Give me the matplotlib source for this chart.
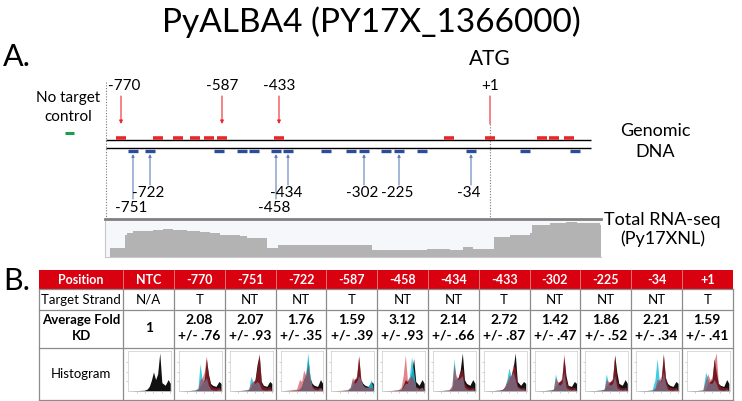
import matplotlib.pyplot as plt
from matplotlib.patches import Rectangle

plt.rcParams['font.family'] = ['Lato', 'DejaVu Sans']

W, H = 742, 401

# panel A: guide sites along the drawn map (0 = left end of the DNA line)
red_sites = [15, 52, 72, 89, 103, 116, 173, 343, 384, 436, 448, 463]
blue_sites = [27, 44, 113, 136, 148, 170, 182, 220, 245, 258, 280, 293, 316, 365, 419, 469]
red_labels = {0: '-770', 5: '-587', 6: '-433', 8: '+1'}
blue_labels = {0: '-751', 1: '-722', 5: '-458', 6: '-434', 9: '-302', 11: '-225', 13: '-34'}
blue_low = ['-751', '-458']

# total RNA-seq coverage (relative depth)
cov_x = [4, 16, 19, 21, 27, 37, 47, 57, 67, 81, 94, 104, 114, 124, 134, 141, 151, 157,
         161, 169, 172, 190, 210, 230, 254, 261, 266, 290, 310, 321, 337, 344, 357, 367,
         387, 388, 404, 424, 426, 444, 460, 471, 484, 494]
cov_depth = [8.7, 8.7, 21.7, 24.4, 25.7, 26.5, 27.5, 28.2, 27.5, 25.7, 24.7, 24.0, 22.2,
             21.7, 20.7, 19.5, 18.7, 18.7, 8.7, 8.7, 12.2, 12.4, 12.0, 11.7, 11.7, 11.7,
             6.7, 7.0, 7.2, 8.4, 8.4, 6.7, 10.0, 8.4, 8.4, 20.0, 21.7, 23.7, 31.7, 33.7,
             34.7, 34.2, 33.7, 31.7]

# panel B table
positions = ['NTC', '-770', '-751', '-722', '-587', '-458', '-434', '-433', '-302', '-225', '-34', '+1']
strands = ['N/A', 'T', 'NT', 'NT', 'T', 'NT', 'NT', 'T', 'NT', 'NT', 'NT', 'T']
fold_kd = ['1', '2.08', '2.07', '1.76', '1.59', '3.12', '2.14', '2.72', '1.42', '1.86', '2.21', '1.59']
fold_err = ['', '.76', '.93', '.35', '.39', '.93', '.66', '.87', '.47', '.52', '.34', '.41']

# histogram thumbnails (relative counts on a shared DNA-content grid)
hist_x = [0, .38, .45, .50, .55, .60, .65, .70, .75, .80, .88, .95, 1.0]
hist_black = [
    [0, .02, .05, .12, .28, .5, .3, .45, 1.0, .22, .15, .3, .2],
    [0, .02, .04, .12, .2, .3, .85, .45, .2, .15, .12, .25, .2],
    [0, .02, .04, .1, .2, .3, .7, .95, .25, .15, .12, .25, .2],
    [0, .02, .05, .12, .3, .4, .85, .35, .2, .15, .12, .3, .2],
    [0, .02, .05, .15, .3, .35, .9, .3, .2, .15, .12, .25, .2],
    [0, .02, .04, .15, .3, .25, .3, .5, .85, .25, .15, .3, .2],
    [0, .02, .05, .3, .3, .35, .55, 1.0, .3, .2, .15, .3, .2],
    [0, .02, .04, .1, .2, .3, .4, .6, 1.0, .25, .15, .25, .2],
    [0, .02, .04, .1, .2, .25, .3, .9, .4, .15, .12, .25, .2],
    [0, .02, .04, .12, .2, .25, .3, .95, .5, .2, .15, .3, .2],
    [0, .02, .05, .2, .25, .3, .95, .35, .2, .15, .12, .25, .2],
    [0, .02, .05, .2, .25, .3, .85, .5, .2, .15, .12, .3, .2],
]
hist_cyan = [
    None,
    [0, .02, .08, .72, .3, .25, .35, .15, .05, .03, .02, .05, 0],
    [0, .02, .05, .38, .25, .2, .25, .2, .05, .03, .02, .04, 0],
    [0, .02, .04, .15, .3, .5, 1.0, .4, .1, .05, .03, .08, 0],
    [0, .02, .1, .3, .2, .25, .4, .3, .15, .1, .1, .3, 0],
    [0, .02, .04, .1, .2, .2, .4, .9, .5, .1, .05, .1, 0],
    [0, .02, .1, .85, .35, .3, .35, .4, .1, .05, .03, .05, 0],
    [0, .02, .04, .1, .3, .6, .4, .5, .3, .1, .05, .05, 0],
    [0, .02, .05, .45, .2, .15, .2, .5, .1, .05, .03, .05, 0],
    [0, .02, .05, .45, .2, .15, .2, .4, .1, .05, .03, .05, 0],
    [0, .02, .3, .85, .3, .25, .5, .2, .05, .03, .02, .05, 0],
    [0, .02, .5, .3, .2, .2, .3, .2, .05, .03, .02, .05, 0],
]
hist_red = [
    None,
    [0, .02, .06, .3, .35, .5, .93, .4, .15, .1, .08, .1, .05],
    [0, .02, .05, .2, .25, .3, .6, 1.0, .2, .12, .08, .12, .05],
    [0, .05, .3, .25, .55, .4, .7, .3, .15, .1, .08, .1, .05],
    [0, .03, .1, .35, .3, .4, .95, .35, .15, .1, .08, .1, .05],
    [0, .03, .1, .4, .95, .3, .35, .4, .3, .12, .08, .1, .05],
    [0, .03, .15, .7, .4, .35, .5, .6, .2, .12, .08, .1, .05],
    [0, .02, .05, .12, .25, .4, .4, .7, .6, .15, .08, .1, .05],
    [0, .02, .05, .35, .25, .25, .35, 1.0, .3, .12, .08, .1, .05],
    [0, .02, .05, .3, .25, .25, .35, .9, .3, .12, .08, .1, .05],
    [0, .02, .08, .3, .3, .4, 1.0, .35, .15, .1, .08, .1, .05],
    [0, .02, .3, .45, .3, .35, .8, 1.0, .2, .12, .08, .1, .05],
]

RED = '#e8272b'
BLUE = '#2b4c9b'
BLUE_LINE = '#5f7fb8'
TABLE_RED = '#d9000f'


def px_axes(x0, y0, x1, y1):
    return fig.add_axes([x0 / W, 1 - y1 / H, (x1 - x0) / W, (y1 - y0) / H])


fig = plt.figure(figsize=(W / 100, H / 100), dpi=100)

# base axes in pixel units for text and the table
ax = fig.add_axes([0, 0, 1, 1])
ax.set_xlim(0, W)
ax.set_ylim(H, 0)
ax.axis('off')

ax.text(371, 22, 'PyALBA4 (PY17X_1366000)', ha='center', va='center', fontsize=24)
ax.text(3, 57, 'A.', ha='left', va='center', fontsize=22)
ax.text(3, 281, 'B.', ha='left', va='center', fontsize=22)
ax.text(490, 59, 'ATG', ha='center', va='center', fontsize=15)

ax.text(68, 98, 'No target', ha='center', va='center', fontsize=11)
ax.text(68, 117, 'control', ha='center', va='center', fontsize=11)
ax.plot([65, 74], [133, 133], color='#1a9e4a', lw=2.2, solid_capstyle='butt')

ax.text(655, 131, 'Genomic', ha='center', va='center', fontsize=13)
ax.text(655, 152, 'DNA', ha='center', va='center', fontsize=13)
ax.text(662, 220, 'Total RNA-seq', ha='center', va='center', fontsize=13)
ax.text(663, 239, '(Py17XNL)', ha='center', va='center', fontsize=13)

# genomic map, same pixel scale shifted so the DNA line starts at 0
MAP_LEFT = 106
axm = fig.add_axes([0, 0, 1, 1])
axm.set_xlim(-MAP_LEFT, W - MAP_LEFT)
axm.set_ylim(H, 0)
axm.axis('off')

axm.plot([0, 0], [82, 219], color='#777777', lw=0.8, ls=(0, (1, 1.5)))
axm.plot([red_sites[8], red_sites[8]], [124, 219], color='#777777', lw=0.8, ls=(0, (1, 1.5)))
axm.hlines([140.3, 148.3], 0, 485, color='black', lw=1.0)
axm.hlines([137.7] * len(red_sites), [p - 5.3 for p in red_sites], [p + 5.3 for p in red_sites],
           color=RED, lw=2.6)
axm.hlines([151] * len(blue_sites), [p - 5.3 for p in blue_sites], [p + 5.3 for p in blue_sites],
           color=BLUE, lw=2.4)

for i, lab in red_labels.items():
    p = red_sites[i]
    style = '-' if lab == '+1' else '-|>'
    axm.annotate('', xy=(p, 124), xytext=(p, 96),
                 arrowprops=dict(arrowstyle=style, color=RED, lw=0.8, mutation_scale=5,
                                 shrinkA=0, shrinkB=0))
    # the first label starts at the dotted line instead of being centred
    if i == 0:
        axm.text(2, 86, lab, ha='left', va='center', fontsize=11)
    else:
        axm.text(p, 86, lab, ha='center', va='center', fontsize=11)

for i, lab in blue_labels.items():
    p = blue_sites[i]
    low = lab in blue_low
    y_end = 199 if low else 185
    axm.annotate('', xy=(p, 154), xytext=(p, y_end),
                 arrowprops=dict(arrowstyle='-|>', color=BLUE_LINE, lw=0.8, mutation_scale=4,
                                 shrinkA=0, shrinkB=0))
    axm.text(p - 2, 208 if low else 193, lab, ha='center', va='center', fontsize=11)

# RNA-seq coverage track
axc = px_axes(105, 219, 601, 257)
axc.set_xlim(-1, 495)
axc.set_ylim(0, 38)
axc.set_facecolor('#f5f7fb')
axc.fill_between(cov_x + [495], cov_depth + [cov_depth[-1]], step='post', color='#b3b3b3', lw=0)
axc.set_xticks([])
axc.set_yticks([])
for s in ['left', 'bottom']:
    axc.spines[s].set_color('#c8c8c8')
axc.spines['right'].set_visible(False)
axc.spines['top'].set_color('#808080')
axc.spines['top'].set_linewidth(2)

# table
col_edges = [39, 123.3] + [123.3 + 50.78 * (k + 1) for k in range(12)]
row_edges = [270, 289, 310, 347.5, 400]

ax.add_patch(Rectangle((col_edges[0], row_edges[0]), col_edges[-1] - col_edges[0],
                       row_edges[1] - row_edges[0], facecolor=TABLE_RED, edgecolor='none'))
for x in col_edges[1:-1]:
    ax.plot([x, x], [row_edges[0], row_edges[1]], color='#f08080', lw=0.6)
for x in col_edges:
    ax.plot([x, x], [row_edges[1], row_edges[-1]], color='#8c8c8c', lw=0.9)
for y in row_edges[1:]:
    ax.plot([col_edges[0], col_edges[-1]], [y, y], color='#8c8c8c', lw=0.9)

def cell_center(c):
    return (col_edges[c] + col_edges[c + 1]) / 2

ax.text(cell_center(0), 279.5, 'Position', ha='center', va='center', fontsize=9,
        fontweight='bold', color='white')
ax.text(cell_center(0), 299.5, 'Target Strand', ha='center', va='center', fontsize=9.5)
ax.text(cell_center(0), 320, 'Average Fold', ha='center', va='center', fontsize=9.5,
        fontweight='bold')
ax.text(cell_center(0), 335.5, 'KD', ha='center', va='center', fontsize=9.5, fontweight='bold')
ax.text(cell_center(0), 374, 'Histogram', ha='center', va='center', fontsize=9.5)

for k in range(12):
    cx = cell_center(k + 1)
    ax.text(cx, 279.5, positions[k], ha='center', va='center', fontsize=9,
            fontweight='bold', color='white')
    ax.text(cx, 299.5, strands[k], ha='center', va='center', fontsize=9.5)
    if fold_err[k]:
        ax.text(cx, 319.5, fold_kd[k], ha='center', va='center', fontsize=10, fontweight='bold')
        ax.text(cx, 335, '+/- ' + fold_err[k], ha='center', va='center', fontsize=10,
                fontweight='bold')
    else:
        ax.text(cx, 328, fold_kd[k], ha='center', va='center', fontsize=10, fontweight='bold')

    x0 = col_edges[k + 1] + 5
    x1 = col_edges[k + 2] - 3
    axh = px_axes(x0, 351, x1, 391)
    axh.fill_between(hist_x, hist_black[k], color='#111111', lw=0)
    if hist_cyan[k] is not None:
        axh.fill_between(hist_x, hist_cyan[k], color='#1fc3e0', alpha=0.85, lw=0)
        axh.fill_between(hist_x, hist_red[k], color='#c8202e', alpha=0.55, lw=0)
    axh.set_xlim(0, 1.02)
    axh.set_ylim(0, 1.05)
    axh.set_xticks([.2, .4, .6, .8, 1.0])
    axh.set_yticks([.25, .5, .75])
    axh.tick_params(length=1.5, width=0.4, colors='#aaaaaa', labelsize=0, pad=0)
    axh.set_xticklabels([])
    axh.set_yticklabels([])
    for s in axh.spines.values():
        s.set_color('#cccccc')
        s.set_linewidth(0.5)

fig.savefig('out.png', dpi=100)
